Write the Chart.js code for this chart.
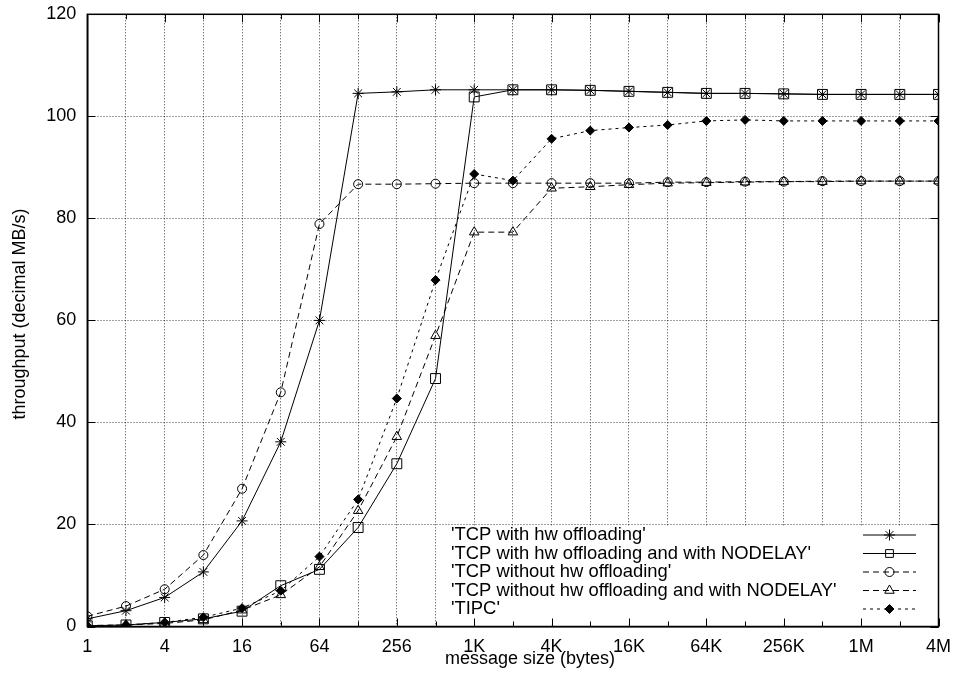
<!DOCTYPE html>
<html>
<head>
<meta charset="utf-8">
<script src="https://cdn.jsdelivr.net/npm/chart.js@4/dist/chart.umd.min.js"></script>
<style>
  html, body { margin: 0; padding: 0; background: #fff; }
  #wrap { width: 953px; height: 675px; }
</style>
</head>
<body>
<div id="wrap"><canvas id="c" width="953" height="675"></canvas></div>
<script>
// ---- data ----
const messageSizes = [1, 2, 4, 8, 16, 32, 64, 128, 256, 512, 1024, 2048, 4096, 8192, 16384, 32768, 65536, 131072, 262144, 524288, 1048576, 2097152, 4194304];
const xTickLabels = ['1', '', '4', '', '16', '', '64', '', '256', '', '1K', '', '4K', '', '16K', '', '64K', '', '256K', '', '1M', '', '4M'];
const yTickValues = [0, 20, 40, 60, 80, 100, 120];

const seriesNames = [
  "'TCP with hw offloading'",
  "'TCP with hw offloading and with NODELAY'",
  "'TCP without hw offloading'",
  "'TCP without hw offloading and with NODELAY'",
  "'TIPC'"
];
const tcpHw = [1.5, 3.1, 5.7, 10.7, 20.7, 36.2, 60.0, 104.5, 104.8, 105.2, 105.2, 105.2, 105.2, 105.1, 104.9, 104.7, 104.5, 104.5, 104.4, 104.3, 104.3, 104.3, 104.3];
const tcpHwNodelay = [0.15, 0.3, 0.8, 1.5, 3.0, 8.0, 11.2, 19.4, 31.9, 48.6, 103.8, 105.2, 105.2, 105.1, 104.9, 104.7, 104.5, 104.5, 104.4, 104.3, 104.3, 104.3, 104.3];
const tcpNoHw = [2.0, 4.0, 7.3, 14.0, 27.0, 45.9, 78.9, 86.7, 86.7, 86.8, 86.9, 86.9, 86.9, 86.9, 86.9, 87.1, 87.1, 87.2, 87.2, 87.3, 87.3, 87.3, 87.3];
const tcpNoHwNodelay = [0.2, 0.3, 0.6, 1.3, 3.2, 6.2, 11.7, 22.7, 37.2, 57.0, 77.3, 77.3, 85.9, 86.2, 86.6, 86.9, 87.0, 87.1, 87.2, 87.2, 87.3, 87.3, 87.3];
const tipc = [0.1, 0.3, 0.8, 1.8, 3.6, 7.0, 13.7, 24.9, 44.7, 67.9, 88.7, 87.4, 95.6, 97.2, 97.8, 98.3, 99.1, 99.3, 99.1, 99.1, 99.1, 99.1, 99.1];

const xTitle = 'message size (bytes)';
const yTitle = 'throughput (decimal MB/s)';

// ---- styling ----
const FAMILY = '"Liberation Sans", Arial, Helvetica, sans-serif';
const FONT = '18px ' + FAMILY;
const LEGEND_FONT = '18.4px ' + FAMILY;
const seriesValues = [tcpHw, tcpHwNodelay, tcpNoHw, tcpNoHwNodelay, tipc];
const seriesStyle = [
  { pointStyle: 'star', radius: 5.5, dash: [], fill: false },
  { pointStyle: 'rect', radius: 7, dash: [], fill: false },
  { pointStyle: 'circle', radius: 4.5, dash: [6, 4], fill: false },
  { pointStyle: 'triangle', radius: 5.5, dash: [6, 4], fill: false },
  { pointStyle: 'rectRot', radius: 4.5, dash: [3, 4], fill: true }
];

const datasets = seriesValues.map((vals, i) => ({
  label: seriesNames[i],
  data: messageSizes.map((s, j) => ({ x: s, y: vals[j] })),
  borderColor: '#000',
  backgroundColor: seriesStyle[i].fill ? '#000' : 'rgba(0,0,0,0)',
  pointBorderColor: '#000',
  pointBackgroundColor: seriesStyle[i].fill ? '#000' : 'rgba(0,0,0,0)',
  borderWidth: 1,
  pointBorderWidth: 1,
  borderDash: seriesStyle[i].dash,
  pointStyle: seriesStyle[i].pointStyle,
  pointRadius: seriesStyle[i].radius,
  tension: 0,
  fill: false
}));

function zeroPad(scale) {
  scale.paddingTop = 0; scale.paddingBottom = 0;
  scale.paddingLeft = 0; scale.paddingRight = 0;
}

// ---- plugin: legend box, frame, inward ticks, titles ----
const gnuplotDecor = {
  id: 'gnuplotDecor',
  beforeDatasetsDraw(chart) {
    const ctx = chart.ctx;
    const ca = chart.chartArea;
    const ys = chart.scales.y;
    ctx.save();
    ctx.fillStyle = '#fff';
    const top = ys.getPixelForValue(20) + 1.5;
    ctx.fillRect(440, top, ca.right - 2 - 440, ca.bottom - 2 - top);
    ctx.restore();
  },
  afterDraw(chart) {
    const ctx = chart.ctx;
    const ca = chart.chartArea;
    const xs = chart.scales.x, ys = chart.scales.y;
    ctx.save();
    // inward ticks
    ctx.strokeStyle = '#000';
    ctx.lineWidth = 1;
    ctx.setLineDash([]);
    messageSizes.forEach((s, i) => {
      const px = Math.round(xs.getPixelForValue(s)) + 0.5;
      const len = xTickLabels[i] ? 8 : 5;
      ctx.beginPath();
      ctx.moveTo(px, ca.bottom); ctx.lineTo(px, ca.bottom - len);
      ctx.moveTo(px, ca.top); ctx.lineTo(px, ca.top + len);
      ctx.stroke();
    });
    yTickValues.forEach(v => {
      const py = Math.round(ys.getPixelForValue(v)) + 0.5;
      ctx.beginPath();
      ctx.moveTo(ca.left, py); ctx.lineTo(ca.left + 8, py);
      ctx.moveTo(ca.right, py); ctx.lineTo(ca.right - 8, py);
      ctx.stroke();
    });
    // frame
    ctx.lineWidth = 1.5;
    ctx.strokeRect(ca.left, ca.top, ca.right - ca.left, ca.bottom - ca.top);

    // legend
    ctx.font = LEGEND_FONT;
    ctx.fillStyle = '#000';
    ctx.textBaseline = 'middle';
    ctx.textAlign = 'left';
    chart.data.datasets.forEach((ds, i) => {
      const y = 535 + i * 18.5;
      ctx.fillText(ds.label, 451, y);
      ctx.save();
      ctx.lineWidth = 1;
      ctx.setLineDash(ds.borderDash);
      ctx.beginPath();
      ctx.moveTo(863, y); ctx.lineTo(916, y);
      ctx.stroke();
      ctx.restore();
      ctx.save();
      ctx.setLineDash([]);
      ctx.lineWidth = 1;
      ctx.strokeStyle = '#000';
      ctx.fillStyle = ds.pointBackgroundColor;
      if (Chart.helpers && Chart.helpers.drawPoint) {
        const r = ds.pointStyle === 'rect' ? 5.5 : ds.pointRadius;
        Chart.helpers.drawPoint(ctx, { pointStyle: ds.pointStyle, radius: r, borderWidth: 1, rotation: 0 }, 889.5, y);
      }
      ctx.restore();
    });

    // axis titles
    ctx.font = FONT;
    ctx.fillStyle = '#000';
    ctx.textAlign = 'center';
    ctx.textBaseline = 'middle';
    ctx.fillText(xTitle, 530, 659);
    ctx.translate(20, 314);
    ctx.rotate(-Math.PI / 2);
    ctx.fillText(yTitle, 0, 0);
    ctx.restore();
  }
};

new Chart(document.getElementById('c'), {
  type: 'line',
  data: { datasets },
  options: {
    responsive: false,
    animation: false,
    events: [],
    layout: { padding: { top: 14.3, right: 14.5, left: 0, bottom: 0 } },
    plugins: { legend: { display: false }, tooltip: { enabled: false }, title: { display: false } },
    scales: {
      x: {
        type: 'logarithmic',
        min: 1,
        max: 4194304,
        afterBuildTicks(scale) {
          scale.ticks = messageSizes.map(v => ({ value: v }));
        },
        afterFit(scale) { scale.height = 48.5; zeroPad(scale); },
        ticks: {
          autoSkip: false,
          maxRotation: 0,
          padding: 10,
          color: '#000',
          font: { family: FAMILY, size: 18 },
          callback(value, index) { return xTickLabels[index]; }
        },
        grid: {
          color: 'rgba(0,0,0,0.75)',
          lineWidth: 1,
          drawTicks: false
        },
        border: { display: true, color: '#000', width: 1.5, dash: [1, 2] },
        title: { display: false }
      },
      y: {
        type: 'linear',
        min: 0,
        max: 120,
        afterFit(scale) { scale.width = 87.3; zeroPad(scale); },
        afterBuildTicks(scale) {
          scale.ticks = yTickValues.map(v => ({ value: v }));
        },
        ticks: {
          padding: 11,
          color: '#000',
          font: { family: FAMILY, size: 18 },
          callback(value) { return String(value); }
        },
        grid: {
          color: 'rgba(0,0,0,0.75)',
          lineWidth: 1,
          drawTicks: false
        },
        border: { display: true, color: '#000', width: 1.5, dash: [1, 2] },
        title: { display: false }
      }
    }
  },
  plugins: [gnuplotDecor]
});
</script>
</body>
</html>
